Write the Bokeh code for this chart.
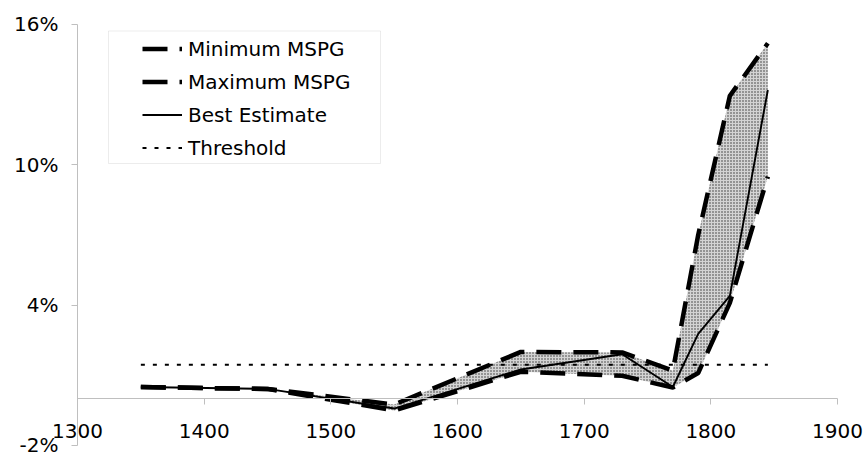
from bokeh.plotting import figure
from bokeh.models import (FixedTicker, PrintfTickFormatter, Legend, LegendItem,
                          Range1d, BoxAnnotation)
from bokeh.embed import file_html
from bokeh.resources import INLINE

# ---- data ----
years = [1350, 1450, 1550, 1650, 1730, 1770, 1790, 1815, 1845]
min_mspg = [0.50, 0.42, -0.50, 1.15, 0.98, 0.48, 1.10, 4.10, 9.50]
max_mspg = [0.50, 0.42, -0.25, 2.00, 1.98, 1.20, 7.00, 12.95, 15.20]
best_estimate = [0.50, 0.42, -0.42, 1.25, 1.90, 0.50, 2.77, 4.40, 13.20]
threshold_years = [1350, 1845]
threshold_vals = [1.45, 1.45]

x_ticks = [1300, 1400, 1500, 1600, 1700, 1800, 1900]
y_ticks = [-2, 4, 10, 16]

FONT = "DejaVu Sans"
AXIS_GRAY = "#bfbfbf"

# ranges padded so that the axes (with bounds) sit where the reference has them
p = figure(width=864, height=456,
           x_range=Range1d(1239.2, 1921.3), y_range=Range1d(-2.47, 17.026),
           output_backend="svg", toolbar_location=None,
           min_border_left=0, min_border_right=0, min_border_top=0, min_border_bottom=0)
p.outline_line_color = None
p.grid.visible = False
p.background_fill_color = "white"
p.border_fill_color = "white"

# x axis crossing at 0
xa = p.xaxis[0]
xa.fixed_location = 0
xa.bounds = (1300, 1900)
xa.ticker = FixedTicker(ticks=x_ticks)
xa.minor_tick_line_color = None
xa.major_tick_out = 6
xa.major_tick_in = 0
xa.axis_line_color = AXIS_GRAY
xa.major_tick_line_color = AXIS_GRAY
xa.major_label_standoff = 19
xa.major_label_text_font = FONT
xa.major_label_text_font_size = "20px"
xa.major_label_text_color = "black"

ya = p.yaxis[0]
ya.fixed_location = 1300
ya.bounds = (-2, 16)
ya.ticker = FixedTicker(ticks=y_ticks)
ya.formatter = PrintfTickFormatter(format="%d%%")
ya.minor_tick_line_color = None
ya.major_tick_out = 6
ya.major_tick_in = 0
ya.axis_line_color = AXIS_GRAY
ya.major_tick_line_color = AXIS_GRAY
ya.major_label_standoff = 13
ya.major_label_text_font = FONT
ya.major_label_text_font_size = "20px"
ya.major_label_text_color = "black"

# band between min and max
p.varea(x=years, y1=min_mspg, y2=max_mspg, fill_color="#d4d4d4",
        hatch_pattern="dot", hatch_color="black", hatch_scale=3, hatch_weight=1,
        hatch_alpha=0.75)

r_thr = p.line(threshold_years, threshold_vals, line_color="black", line_width=2,
               line_dash="4 8")
r_best = p.line(years, best_estimate, line_color="black", line_width=1.9)
r_min = p.line(years, min_mspg, line_color="black", line_width=4.5, line_dash="25 12")
r_max = p.line(years, max_mspg, line_color="black", line_width=4.5, line_dash="25 12")

# legend frame (screen units: x from frame left, y from frame bottom)
p.add_layout(BoxAnnotation(left=108, right=380, top=425.5, bottom=293,
                           left_units="screen", right_units="screen",
                           top_units="screen", bottom_units="screen",
                           fill_alpha=0, line_color=AXIS_GRAY, line_width=1))

legend = Legend(items=[
    LegendItem(label="Minimum MSPG", renderers=[r_min]),
    LegendItem(label="Maximum MSPG", renderers=[r_max]),
    LegendItem(label="Best Estimate", renderers=[r_best]),
    LegendItem(label="Threshold", renderers=[r_thr]),
], location=(137, 291))
legend.border_line_alpha = 0
legend.background_fill_alpha = 0
legend.padding = 5
legend.margin = 0
legend.spacing = 8
legend.glyph_width = 40
legend.glyph_height = 25
legend.label_height = 25
legend.label_standoff = 6
legend.label_text_font = FONT
legend.label_text_font_size = "20px"
legend.label_text_color = "black"
p.add_layout(legend)

open("out.html", "w").write(file_html(p, INLINE))
